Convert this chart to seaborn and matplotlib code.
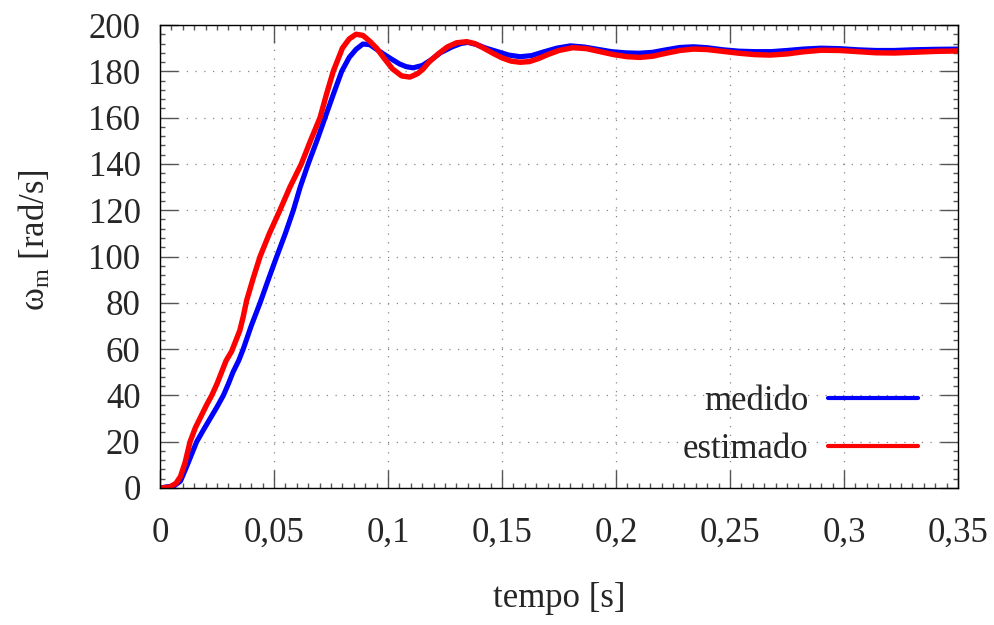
import matplotlib
matplotlib.use("Agg")
import matplotlib.pyplot as plt
from matplotlib.ticker import MultipleLocator
import pandas as pd
import seaborn as sns

# ----------------------------------------------------------
# data (speed step response)
# ----------------------------------------------------------
t_medido = [0, 0.003, 0.006, 0.009, 0.012, 0.0161, 0.019, 0.022, 0.025, 0.0278,
            0.030, 0.032, 0.0345, 0.0365, 0.040, 0.0439, 0.0475, 0.0512, 0.055, 0.0585,
            0.0615, 0.065, 0.0688, 0.0724, 0.076, 0.0797, 0.083, 0.086, 0.089, 0.092,
            0.095, 0.098, 0.102, 0.105, 0.108, 0.111, 0.115, 0.119, 0.123, 0.128,
            0.132, 0.135, 0.139, 0.143, 0.148, 0.153, 0.158, 0.163, 0.168, 0.174,
            0.180, 0.186, 0.192, 0.198, 0.204, 0.210, 0.216, 0.222, 0.228, 0.234,
            0.240, 0.247, 0.254, 0.261, 0.268, 0.275, 0.282, 0.290, 0.298, 0.306,
            0.314, 0.322, 0.330, 0.340, 0.350]
w_medido = [0, 0.5, 0.8, 3, 10, 20, 25, 30, 35, 40,
            45, 50, 55, 60, 70, 80, 90, 100, 110, 120,
            130, 140, 150, 160, 170, 180, 186, 189.5, 191.8, 191.5,
            189.5, 187.5, 185, 183.2, 182, 181.5, 182.5, 185, 188, 190.5,
            192, 192.5, 191.5, 190, 188.5, 187, 186.3, 186.8, 188.3, 190,
            191, 190.5, 189.5, 188.5, 188, 187.8, 188.2, 189.3, 190.3, 190.6,
            190.2, 189.3, 188.7, 188.5, 188.5, 189, 189.6, 190, 189.8, 189.3,
            189, 189, 189.3, 189.5, 189.6]

t_estimado = [0, 0.004, 0.007, 0.009, 0.011, 0.0132, 0.0155, 0.018, 0.0205, 0.0227,
              0.025, 0.027, 0.029, 0.0314, 0.033, 0.035, 0.0365, 0.038, 0.041, 0.0439,
              0.048, 0.0526, 0.057, 0.060, 0.062, 0.066, 0.0702, 0.073, 0.076, 0.078,
              0.080, 0.083, 0.086, 0.089, 0.092, 0.095, 0.098, 0.102, 0.106, 0.1096,
              0.113, 0.1154, 0.118, 0.122, 0.126, 0.130, 0.1345, 0.138, 0.142, 0.146,
              0.150, 0.154, 0.158, 0.162, 0.166, 0.170, 0.175, 0.181, 0.187, 0.193,
              0.199, 0.205, 0.2105, 0.216, 0.222, 0.228, 0.234, 0.240, 0.247, 0.254,
              0.261, 0.2675, 0.275, 0.282, 0.290, 0.298, 0.306, 0.314, 0.322, 0.330,
              0.340, 0.350]
w_estimado = [0, 0.3, 2, 5, 11, 20, 26, 31, 36, 40,
              45, 50, 55, 59, 63, 68, 74, 81, 91, 100,
              110, 120, 130, 136, 140, 150, 160, 170, 180, 185,
              190, 194, 196, 195.5, 193, 190, 186, 181, 178, 177.5,
              179, 181, 184, 187.5, 190.5, 192.3, 192.8, 192, 190, 187.8,
              185.8, 184.4, 183.9, 184.2, 185.5, 187.2, 189, 190.2, 189.8, 188.5,
              187.2, 186.3, 186, 186.5, 187.8, 189, 189.6, 189.4, 188.6, 187.8,
              187.2, 187, 187.5, 188.4, 189.1, 189, 188.5, 188, 187.9, 188.2,
              188.6, 188.8]

x_ticks = [0, 0.05, 0.1, 0.15, 0.2, 0.25, 0.3, 0.35]
x_tick_labels = ['0', '0,05', '0,1', '0,15', '0,2', '0,25', '0,3', '0,35']
y_ticks = [0, 20, 40, 60, 80, 100, 120, 140, 160, 180, 200]

# ----------------------------------------------------------
# style
# ----------------------------------------------------------
sns.set_style("ticks")
plt.rcParams['font.family'] = ['Liberation Serif', 'DejaVu Serif']
plt.rcParams['mathtext.fontset'] = 'custom'
plt.rcParams['mathtext.rm'] = 'Liberation Serif'
plt.rcParams['mathtext.it'] = 'Liberation Serif:italic'

df_med = pd.DataFrame({'t': t_medido, 'w': w_medido})
df_est = pd.DataFrame({'t': t_estimado, 'w': w_estimado})

# ----------------------------------------------------------
# main
# ----------------------------------------------------------
fig = plt.figure(figsize=(9.95, 6.25), dpi=100)
ax = fig.add_axes([0.1608, 0.2192, 0.8020, 0.7408])

sns.lineplot(data=df_med, x='t', y='w', ax=ax, color='#0000ff', lw=3.7,
             label='medido', sort=False)
sns.lineplot(data=df_est, x='t', y='w', ax=ax, color='#ff0000', lw=3.9,
             label='estimado', sort=False)

ax.set_xlim(0, 0.35)
ax.set_ylim(0, 200)
ax.set_xticks(x_ticks)
ax.set_xticklabels(x_tick_labels)
ax.set_yticks(y_ticks)
ax.xaxis.set_minor_locator(MultipleLocator(0.005))
ax.yaxis.set_minor_locator(MultipleLocator(4))

ax.tick_params(which='both', direction='in', top=True, right=True,
               color='#555555', width=1, labelsize=25)
ax.tick_params(which='major', length=13)
ax.tick_params(axis='x', which='major', pad=21)
ax.tick_params(axis='y', which='major', pad=14)
ax.tick_params(which='minor', length=3.5)

for sp in ax.spines.values():
    sp.set_color('black')
    sp.set_linewidth(1.0)

ax.set_axisbelow(True)
ax.grid(True, which='major', color='#888888', lw=0.9, linestyle=(0, (1, 6)))

ax.set_xlabel('tempo [s]', fontsize=25)
ax.xaxis.set_label_coords(0.5, -0.203)
ax.set_ylabel(r'ω$_\mathrm{m}$ [rad/s]', fontsize=25)
ax.yaxis.set_label_coords(-0.134, 0.5356)

leg = ax.legend(loc='lower right', bbox_to_anchor=(0.95, 0.0475), frameon=False,
                markerfirst=False, fontsize=25, handlelength=2.6,
                handletextpad=0.55, labelspacing=0.42, borderpad=0,
                borderaxespad=0)
for h in leg.get_lines():
    h.set_linewidth(3.0)

plt.savefig('out.png', dpi=100)
